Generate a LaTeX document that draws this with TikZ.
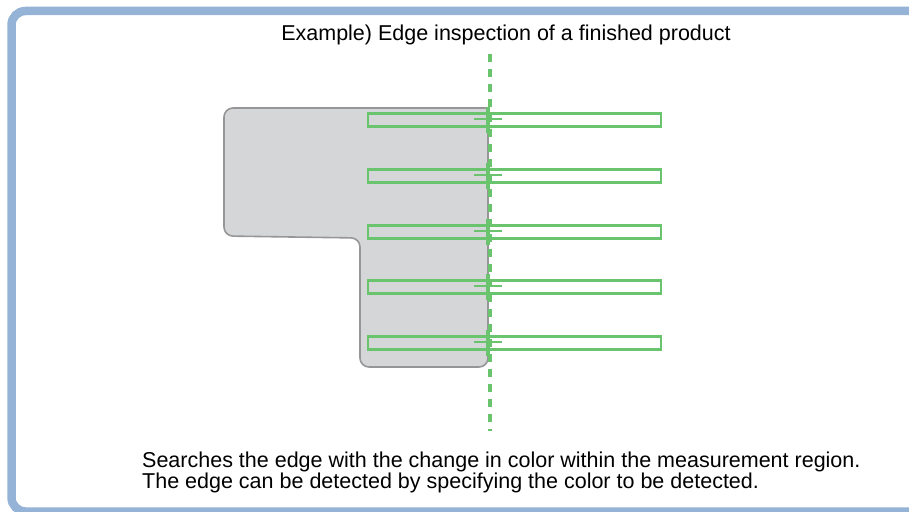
\documentclass[tikz,border=0pt]{standalone}
\usepackage{fontspec}
\setmainfont{Liberation Sans}
\definecolor{framec}{RGB}{148,179,215}
\definecolor{greenc}{RGB}{106,196,110}
\definecolor{prodfill}{RGB}{213,214,216}
\definecolor{prodline}{RGB}{150,150,152}
\begin{document}
\begin{tikzpicture}[x=1pt,y=-1pt,
  frame/.style={draw=framec,line width=8.5pt,rounded corners=14pt},
  product/.style={draw=prodline,fill=prodfill,line width=1.6pt},
  mregion/.style={draw=greenc,line width=2.6pt},
  edgeline/.style={draw=greenc,line width=3.6pt,dash pattern=on 7.5pt off 7.5pt},
  vtick/.style={draw=greenc,line width=3.4pt},
  htick/.style={draw=greenc,line width=2.6pt},
  lbl/.style={font=\fontsize{21.5}{26}\selectfont,inner sep=0pt}]
\useasboundingbox (0,0) rectangle (909,511);
\clip (0,0) rectangle (909,511);
\draw[frame] (11.5,11) rectangle (930,511.5);
% product
\draw[product] (488,200) [rounded corners=9pt] -- (488,367) -- (360,367)
  -- (360,238) -- (224,236) -- (224,108) -- (300,108) [sharp corners] -- (488,108) -- cycle;
% measurement regions
\foreach \yy/\n in {120/1,176/2,232/3,287/4,343/5}{
  \node[mregion,minimum width=293pt,minimum height=13pt,inner sep=0pt] (r\n) at (514.5,\yy) {};
  \coordinate (c\n) at (488,\yy);
  \draw[vtick] ([yshift=-13pt]c\n) -- ([yshift=13pt]c\n);
  \draw[htick] ([xshift=-14pt,yshift=1pt]c\n) -- ([xshift=14pt,yshift=1pt]c\n);
}
\coordinate (et) at (490,54);
\coordinate (eb) at (490,431);
\draw[edgeline] (et) -- (eb);
\node[lbl] (title) at (506,35) {Example) Edge inspection of a finished product};
\node[lbl,anchor=west] (d1) at (142,462) {Searches the edge with the change in color within the measurement region.};
\node[lbl,anchor=west] (d2) at (142,483) {The edge can be detected by specifying the color to be detected.};
\end{tikzpicture}
\end{document}
